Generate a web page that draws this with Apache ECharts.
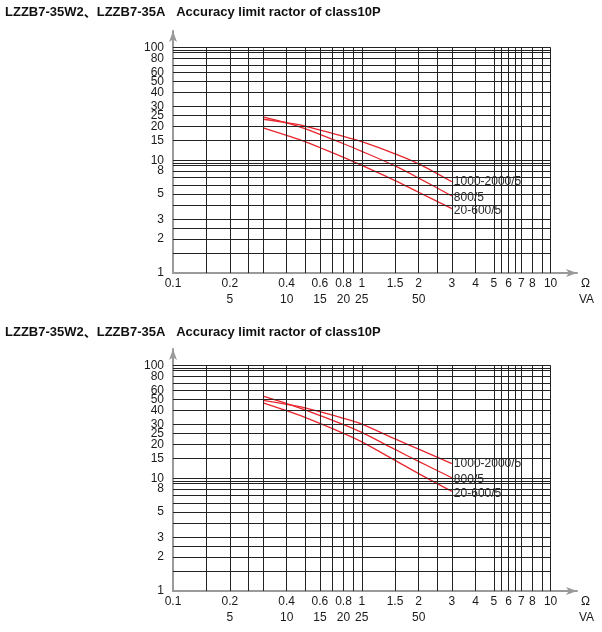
<!DOCTYPE html>
<html>
<head>
<meta charset="utf-8">
<script src="https://cdn.jsdelivr.net/npm/echarts@6/dist/echarts.min.js"></script>
<style>
html, body { margin: 0; padding: 0; background: #fff; }
#main { width: 602px; height: 632px; }
</style>
</head>
<body>
<div id="main"></div>
<script>
var titleText = 'LZZB7-35W2\u3001LZZB7-35A   Accuracy limit ractor of class10P';
var seriesNames = ['1000-2000/5', '800/5', '20-600/5'];

// secondary load in ohm, where the curves are read
var ohmValues = [0.3, 0.4, 0.5, 0.8, 1, 1.5, 2, 3];
// upper chart
var upper1000 = [23.1, 21.5, 20.1, 16.3, 14.6, 11.4, 9.3, 6.45];
var upper800 = [24.3, 21.5, 19.1, 14.0, 12.0, 8.9, 6.95, 4.82];
var upper600 = [19.4, 16.6, 14.6, 10.6, 9.0, 6.6, 5.2, 3.72];
// lower chart
var lower1000 = [49, 45.2, 42, 34, 30.2, 22.3, 18.1, 13.5];
var lower800 = [53.4, 45.9, 40.4, 29.9, 25.5, 18.0, 14.1, 10.1];
var lower600 = [46.7, 39.7, 34.6, 25.0, 21.0, 14.4, 11.0, 7.65];

// graph paper
var xGridValues = [0.15, 0.2, 0.25, 0.3, 0.4, 0.5, 0.6, 0.7, 0.8, 0.9, 1, 1.5, 2, 2.5, 3, 4, 5, 5.5, 6, 6.5, 7, 8, 9, 10];
var yGridValues = [1.5, 2, 2.5, 3, 4, 5, 6, 7, 8, 9, 9.5, 10, 15, 20, 25, 30, 40, 50, 60, 70, 80, 90, 95, 100];
var xTicks = [0.1, 0.2, 0.4, 0.6, 0.8, 1, 1.5, 2, 3, 4, 5, 6, 7, 8, 10];
var yTicks = [1, 2, 3, 5, 8, 10, 15, 20, 25, 30, 40, 50, 60, 80, 100];
var vaTicks = [0.2, 0.4, 0.6, 0.8, 1, 2];
var vaLabels = ['5', '10', '15', '20', '25', '50'];

var font = 'Liberation Sans, Arial, Noto Sans CJK SC, sans-serif';
var ink = '#1a1a1a';
var red = '#e8262d';

function num(v) {
	return String(+(+v).toPrecision(6));
}

function paperLines() {
	var data = [];
	yGridValues.forEach(function (v) {
		data.push([{ coord: [0.1, v] }, { coord: [10, v] }]);
	});
	xGridValues.forEach(function (v) {
		data.push([{ coord: [v, 1] }, { coord: [v, 100] }]);
	});
	return data;
}

function makeXAxes(g) {
	var arrowLine = {
		show: true,
		symbol: ['none', 'arrow'],
		symbolSize: [6, 11],
		lineStyle: { color: '#9a9a9a', width: 2 }
	};
	return [{
		type: 'log', gridIndex: g, min: 0.1, max: 13.8,
		axisLine: arrowLine,
		axisTick: { show: false },
		splitLine: { show: false },
		axisLabel: {
			customValues: xTicks, margin: 5, fontSize: 12, color: ink, fontFamily: font,
			formatter: function (v) { return num(v); }
		},
		name: '\u03a9', nameLocation: 'end', nameGap: 4,
		nameTextStyle: { fontSize: 12, color: ink, fontFamily: font, verticalAlign: 'top', padding: [5, 0, 0, 0] }
	}, {
		type: 'log', gridIndex: g, min: 0.1, max: 13.8, position: 'bottom', offset: 16,
		axisLine: { show: false },
		axisTick: { show: false },
		splitLine: { show: false },
		axisLabel: {
			customValues: vaTicks, margin: 5, fontSize: 12, color: ink, fontFamily: font,
			formatter: function (v) {
				var i = vaTicks.indexOf(+num(v));
				return i < 0 ? '' : vaLabels[i];
			}
		},
		name: 'VA', nameLocation: 'end', nameGap: 2,
		nameTextStyle: { fontSize: 12, color: ink, fontFamily: font, verticalAlign: 'top', padding: [5, 0, 0, 0] }
	}];
}

// the top label (100) sits too close to 80 for the overlap check,
// so it goes on a second, line-less axis of the same grid
function makeYAxes(g) {
	var label = {
		margin: 9, fontSize: 12, color: ink, fontFamily: font,
		formatter: function (v) { return num(v); }
	};
	return [{
		type: 'log', gridIndex: g, min: 1, max: 140,
		axisLine: {
			show: true,
			symbol: ['none', 'arrow'],
			symbolSize: [6, 11],
			lineStyle: { color: '#9a9a9a', width: 2 }
		},
		axisTick: { show: false },
		splitLine: { show: false },
		axisLabel: Object.assign({ customValues: yTicks.slice(0, -1) }, label)
	}, {
		type: 'log', gridIndex: g, min: 1, max: 140, position: 'left',
		axisLine: { show: false },
		axisTick: { show: false },
		splitLine: { show: false },
		axisLabel: Object.assign({ customValues: yTicks.slice(-1) }, label)
	}];
}

function makeSeries(g, curves) {
	var list = [{
		type: 'line', xAxisIndex: g * 2, yAxisIndex: g * 2, data: [], z: 1,
		silent: true,
		markLine: {
			silent: true, symbol: ['none', 'none'], animation: false,
			label: { show: false },
			lineStyle: { color: '#222', width: 1, type: 'solid' },
			emphasis: { disabled: true },
			data: paperLines()
		}
	}];
	curves.forEach(function (vals, i) {
		list.push({
			name: seriesNames[i],
			type: 'line', xAxisIndex: g * 2, yAxisIndex: g * 2, z: 3,
			data: ohmValues.map(function (x, k) { return [x, vals[k]]; }),
			smooth: 0.3, showSymbol: false, symbol: 'none',
			lineStyle: { color: red, width: 1.3 },
			endLabel: {
				show: true, formatter: '{a}', color: '#2a2a2a', fontSize: 12, fontFamily: font,
				distance: 2, offset: [0, i === 0 ? 0 : 2]
			}
		});
	});
	return list;
}

var myChart = echarts.init(document.getElementById('main'));
var titleStyle = { fontSize: 13, fontWeight: 'bold', color: '#111', fontFamily: font };

var option = {
	animation: false,
	backgroundColor: '#fff',
	title: [
		{ text: titleText, left: 5, top: 6, padding: 0, textStyle: titleStyle },
		{ text: titleText, left: 5, top: 326, padding: 0, textStyle: titleStyle }
	],
	grid: [
		{ left: 173, right: 25, top: 31, height: 242 },
		{ left: 173, right: 25, top: 349, height: 242 }
	],
	xAxis: makeXAxes(0).concat(makeXAxes(1)),
	yAxis: makeYAxes(0).concat(makeYAxes(1)),
	series: makeSeries(0, [upper1000, upper800, upper600]).concat(makeSeries(1, [lower1000, lower800, lower600]))
};
myChart.setOption(option);
</script>
</body>
</html>
